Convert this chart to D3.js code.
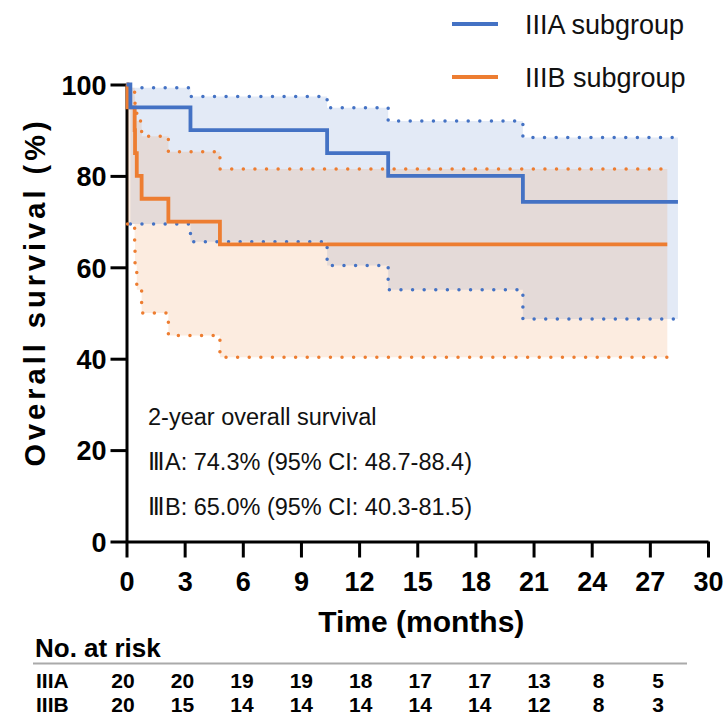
<!DOCTYPE html>
<html>
<head>
<meta charset="utf-8">
<script src="https://cdn.jsdelivr.net/npm/d3@7"></script>
<style>
  html, body { margin: 0; padding: 0; background: #fff; }
  svg { display: block; font-family: "Liberation Sans", Arial, sans-serif; }
</style>
</head>
<body>
<svg id="chart" width="727" height="718"></svg>
<script>
// ---------- data ----------
const xTickValues = [0, 3, 6, 9, 12, 15, 18, 21, 24, 27, 30];
const yTickValues = [0, 20, 40, 60, 80, 100];

// IIIA subgroup (Kaplan-Meier step points, months / %)
const iiiaTime  = [0, 0.2, 3.3, 10.35, 13.5, 20.45, 28.45];
const iiiaSurv  = [100, 95, 90, 85, 80, 74.3, 74.3];
const iiiaCITime = [0.2, 3.3, 10.35, 13.5, 20.45, 28.45];
const iiiaLower = [69.5, 65.6, 60.4, 55.1, 48.7, 48.7];
const iiiaUpper = [99.3, 97.4, 94.9, 92.0, 88.4, 88.4];

// IIIB subgroup
const iiibTime  = [0, 0.05, 0.42, 0.44, 0.53, 0.78, 2.16, 4.82, 27.9];
const iiibSurv  = [100, 95, 90, 85, 80, 75, 70, 65, 65];
const iiibCITime = [0.05, 0.42, 0.44, 0.53, 0.78, 2.16, 4.82, 27.9];
const iiibLower = [69.5, 65.6, 60.4, 55.1, 50.0, 45.1, 40.3, 40.3];
const iiibUpper = [99.3, 97.4, 94.9, 92.0, 88.7, 85.3, 81.5, 81.5];

const seriesNames = ["IIIA subgroup", "IIIB subgroup"];
const riskLabels = ["IIIA", "IIIB"];
const riskIIIA = [20, 20, 19, 19, 18, 17, 17, 13, 8, 5];
const riskIIIB = [20, 15, 14, 14, 14, 14, 14, 12, 8, 3];

const annotationLines = [
  "2-year overall survival",
  "\u2162A: 74.3% (95% CI: 48.7-88.4)",
  "\u2162B: 65.0% (95% CI: 40.3-81.5)"
];

// ---------- layout ----------
const BLUE = "#4472C4", ORANGE = "#ED7D31";
const svg = d3.select("#chart");
const x = d3.scaleLinear().domain([0, 30]).range([126.5, 708]);
const y = d3.scaleLinear().domain([0, 100]).range([541.5, 84.5]);

// ---------- axes ----------
const gx = svg.append("g").attr("transform", `translate(0,${y(0)})`)
  .call(d3.axisBottom(x).tickValues(xTickValues).tickSize(16).tickPadding(8).tickSizeOuter(0));
const gy = svg.append("g").attr("transform", `translate(${x(0)},0)`)
  .call(d3.axisLeft(y).tickValues(yTickValues).tickSize(16).tickPadding(4).tickSizeOuter(0));
[gx, gy].forEach(g => {
  g.select(".domain").attr("stroke", "#000").attr("stroke-width", 3);
  g.selectAll(".tick line").attr("stroke", "#000").attr("stroke-width", 3);
  g.selectAll(".tick text").attr("fill", "#000")
    .style("font-family", "'Liberation Sans', Arial, sans-serif")
    .style("font-weight", "bold").style("font-size", "27px");
});
gy.selectAll(".tick text").attr("dy", "0.36em");
gx.selectAll(".tick text").attr("dy", "0.93em");

// axis titles
svg.append("text")
  .attr("x", (x(0) + x(30)) / 2 + 4).attr("y", 632)
  .attr("text-anchor", "middle")
  .style("font-weight", "bold").style("font-size", "30px")
  .text("Time (months)");
svg.append("text")
  .attr("transform", `translate(45,${(y(0) + y(100)) / 2 - 21}) rotate(-90)`)
  .attr("text-anchor", "middle")
  .style("font-weight", "bold").style("font-size", "29px")
  .style("letter-spacing", "4px")
  .text("Overall survival (%)");

// ---------- bands ----------
function bandData(t, lo, hi) { return t.map((d, i) => ({ t: d, lo: lo[i], hi: hi[i] })); }
const area = d3.area().curve(d3.curveStepAfter)
  .x(d => x(d.t)).y0(d => y(d.lo)).y1(d => y(d.hi));
svg.append("path").datum(bandData(iiiaCITime, iiiaLower, iiiaUpper))
  .attr("d", area).attr("fill", BLUE).attr("fill-opacity", 0.15);
svg.append("path").datum(bandData(iiibCITime, iiibLower, iiibUpper))
  .attr("d", area).attr("fill", ORANGE).attr("fill-opacity", 0.15);

// ---------- CI dotted lines ----------
const stepLine = d3.line().curve(d3.curveStepAfter).x(d => x(d[0])).y(d => y(d[1]));
function dotted(t, v, color) {
  svg.append("path").datum(t.map((d, i) => [d, v[i]]))
    .attr("d", stepLine).attr("fill", "none").attr("stroke", color)
    .attr("stroke-width", 3.5).attr("stroke-linecap", "round")
    .attr("stroke-dasharray", "0 11.6");
}
dotted(iiiaCITime, iiiaUpper, BLUE);
dotted(iiiaCITime, iiiaLower, BLUE);
dotted(iiibCITime, iiibUpper, ORANGE);
dotted(iiibCITime, iiibLower, ORANGE);

// ---------- survival curves ----------
function curve(t, v, color) {
  svg.append("path").datum(t.map((d, i) => [d, v[i]]))
    .attr("d", stepLine).attr("fill", "none").attr("stroke", color)
    .attr("stroke-width", 3.8).attr("stroke-linejoin", "miter");
}
curve(iiibTime, iiibSurv, ORANGE);
curve(iiiaTime, iiiaSurv, BLUE);

// ---------- legend ----------
const legColors = [BLUE, ORANGE];
seriesNames.forEach((name, i) => {
  const ly = 24 + i * 53;
  svg.append("line").attr("x1", 452).attr("x2", 498).attr("y1", ly).attr("y2", ly)
    .attr("stroke", legColors[i]).attr("stroke-width", 4);
  svg.append("text").attr("x", 525).attr("y", ly + 10)
    .style("font-size", "27px").attr("fill", "#111").text(name);
});

// ---------- annotation ----------
annotationLines.forEach((s, i) => {
  svg.append("text").attr("x", 148).attr("y", 425 + i * 45)
    .style("font-size", "23.5px").attr("fill", "#111").text(s);
});

// ---------- risk table ----------
const col = d3.scalePoint().domain(d3.range(riskIIIA.length)).range([123, 658]);
svg.append("text").attr("x", 35).attr("y", 657)
  .style("font-weight", "bold").style("font-size", "26px").text("No. at risk");
svg.append("line").attr("x1", 33).attr("x2", 687).attr("y1", 663.5).attr("y2", 663.5)
  .attr("stroke", "#aaa").attr("stroke-width", 2);
[riskIIIA, riskIIIB].forEach((row, r) => {
  const ry = 688 + r * 24;
  svg.append("text").attr("x", 36).attr("y", ry)
    .style("font-weight", "bold").style("font-size", "21px").text(riskLabels[r]);
  svg.selectAll(null).data(row).enter().append("text")
    .attr("x", (d, i) => col(i)).attr("y", ry)
    .attr("text-anchor", "middle")
    .style("font-weight", "bold").style("font-size", "21px")
    .text(d => d);
});
</script>
</body>
</html>
